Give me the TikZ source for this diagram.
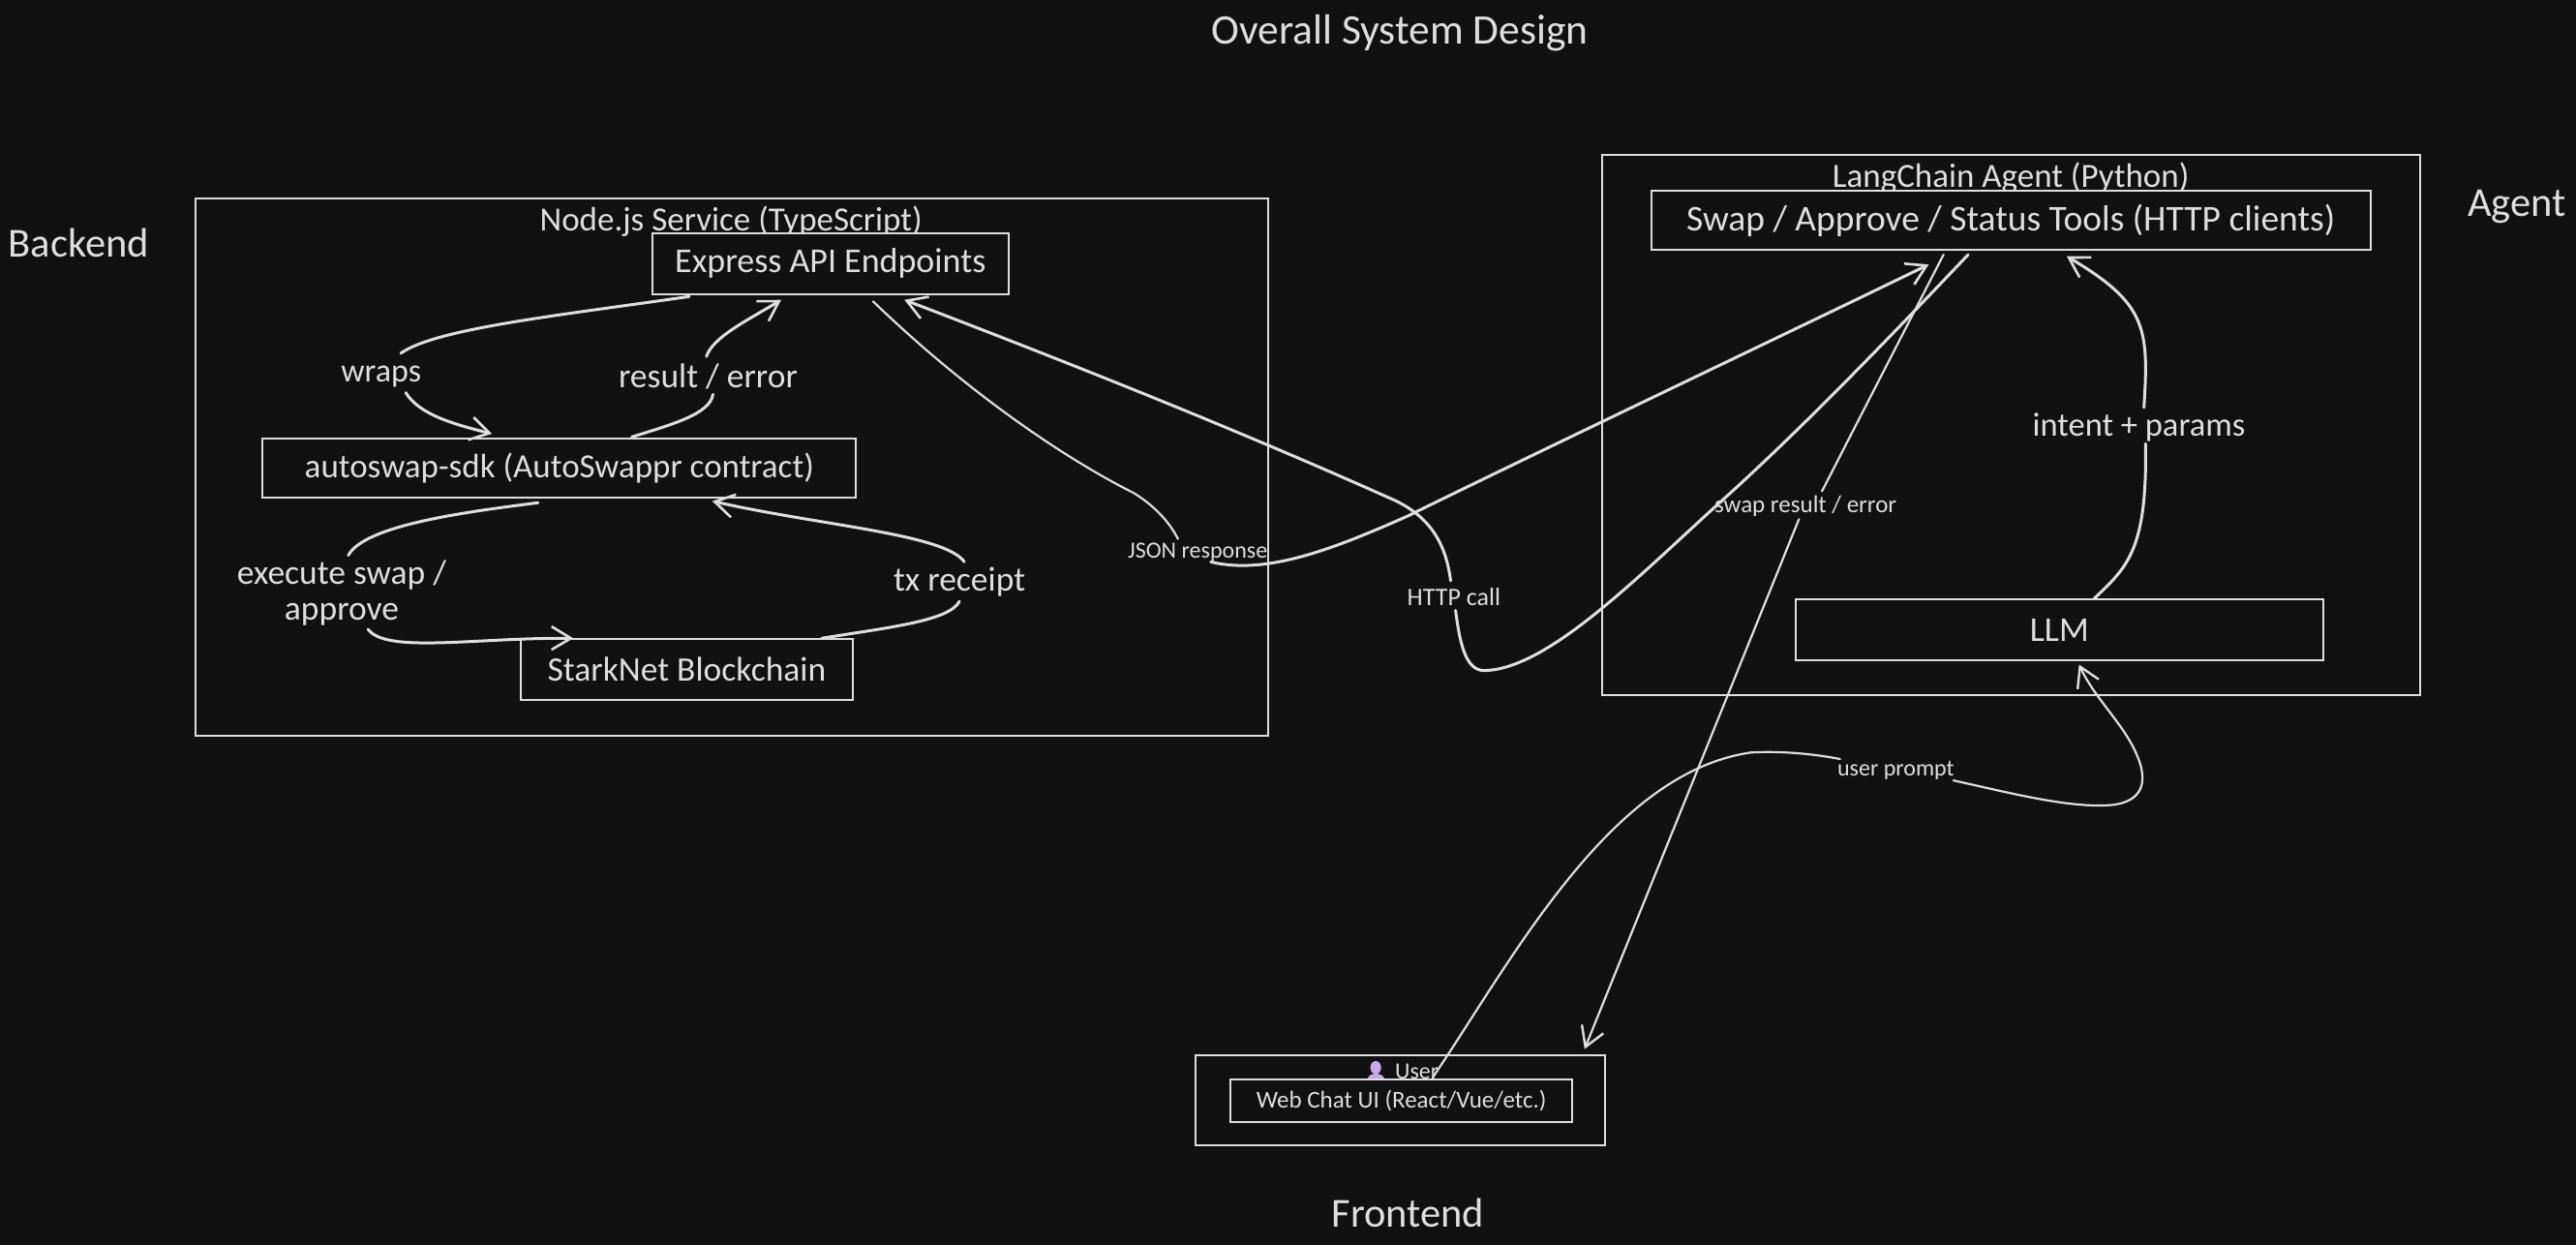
\documentclass[tikz,border=0pt]{standalone}
\usepackage{fontspec}
\usepackage{tikz}
\usetikzlibrary{arrows.meta,calc}
\setmainfont{Carlito}
\definecolor{bgdark}{HTML}{111111}
\definecolor{inkgrey}{HTML}{DEDEDE}
\definecolor{userpurple}{HTML}{C9A7EE}
\tikzset{
  heading/.style={text=inkgrey,inner sep=0pt,font=\fontsize{42.5}{48}\selectfont},
  grouplabel/.style={text=inkgrey,inner sep=0pt,font=\fontsize{35}{40}\selectfont},
  edgelabel/.style={text=inkgrey,inner sep=0pt,align=center,font=\fontsize{35.5}{37}\selectfont},
  smalllabel/.style={text=inkgrey,inner sep=0pt,font=\fontsize{24}{28}\selectfont},
  groupbox/.style={rectangle,draw=inkgrey,line width=2pt},
  svcbox/.style={rectangle,draw=inkgrey,line width=2.2pt,fill=bgdark,text=inkgrey,inner sep=0pt,font=\fontsize{36}{42}\selectfont},
  link/.style={draw=inkgrey,line width=3pt,line cap=round},
  linkto/.style={link,-{Straight Barb[length=20pt,width=24pt,line width=2.6pt]}},
  thinlink/.style={draw=inkgrey,line width=2.2pt,line cap=round},
  thinlinkto/.style={thinlink,-{Straight Barb[length=20pt,width=24pt,line width=2.4pt]}}
}
\begin{document}
\begin{tikzpicture}[x=1.69707pt,y=-1.69707pt]
\useasboundingbox (0,0) rectangle (1568,757.2);
\fill[bgdark] (-2,-2) rectangle (1570,760);

\node [heading,font=\fontsize{43.5}{48}\selectfont] (title) at (852,20) {Overall System Design};
\node [heading] (backend) at (48,148) {Backend};
\node [heading] (agent) at (1532,126) {Agent};
\node [heading] (frontend) at (857,738) {Frontend};

\node [groupbox,minimum width=1108pt,minimum height=555pt] (nodesvc) at (445.5,284.5) {};
\node [grouplabel] (nodelabel) at (445,135) {Node.js Service (TypeScript)};
\node [svcbox,minimum width=368pt,minimum height=63pt] (express) at (505.5,160.5) {Express API Endpoints};
\node [svcbox,minimum width=613pt,minimum height=61pt,font=\fontsize{35}{40}\selectfont] (sdk) at (340.5,285) {autoswap-sdk (AutoSwappr contract)};
\node [svcbox,minimum width=343pt,minimum height=63pt,font=\fontsize{35.5}{40}\selectfont] (starknet) at (418,407.5) {StarkNet Blockchain};

\node [groupbox,minimum width=845pt,minimum height=558pt] (langchain) at (1224,258.5) {};
\node [grouplabel] (langlabel) at (1224,108) {LangChain Agent (Python)};
\node [svcbox,minimum width=743pt,minimum height=61pt,font=\fontsize{37.5}{42}\selectfont] (tools) at (1224,134) {Swap / Approve / Status Tools (HTTP clients)};
\node [svcbox,minimum width=545pt,minimum height=63pt] (llm) at (1253.5,383.5) {LLM};

\node [groupbox,minimum width=423pt,minimum height=93pt] (webgroup) at (852.5,669.5) {};
\node [smalllabel] (userlabel) at (862.5,652.5) {User};
\fill [userpurple] (837.4,649.8) ellipse [x radius=3.3,y radius=4];
\fill [userpurple] (831.8,658) .. controls (832.5,654.5) and (835,653.5) .. (837.4,653.5) .. controls (840,653.5) and (842.5,654.5) .. (843.2,658) -- cycle;
\node [svcbox,minimum width=353pt,minimum height=44pt,font=\fontsize{25}{29}\selectfont] (webchat) at (853,670) {Web Chat UI (React/Vue/etc.)};

\node [edgelabel,font=\fontsize{34}{37}\selectfont] (wraps) at (232,229) {wraps};
\node [edgelabel] (result) at (431,229) {result / error};
\node [edgelabel] (execute) at (208,361) {execute swap /\\approve};
\node [edgelabel] (receipt) at (584,354) {tx receipt};
\node [edgelabel,font=\fontsize{34.5}{37}\selectfont] (intent) at (1302,260) {intent + params};
\node [smalllabel] (json) at (729,336) {JSON response};
\node [smalllabel,font=\fontsize{26}{28}\selectfont] (httpcall) at (885,363.5) {HTTP call};
\node [smalllabel,font=\fontsize{25}{28}\selectfont] (swapres) at (1099,308) {swap result / error};
\node [smalllabel] (prompt) at (1154,469) {user prompt};

\draw [link] ($(express)+(-86,20)$) .. controls (340,192) and (265,200) .. ($(wraps)+(12,-14)$);
\draw [linkto] ($(wraps)+(15,10)$) .. controls (255,252) and (275,258) .. ($(sdk)+(-41,-21)$);
\draw [link] ($(sdk)+(44,-19)$) .. controls (410,258) and (432,252) .. ($(result)+(3,11)$);
\draw [linkto] ($(result)+(-1,-12)$) .. controls (434,205) and (455,195) .. ($(express)+(-30,22)$);
\draw [link] ($(sdk)+(-13,21)$) .. controls (280,312) and (222,320) .. ($(execute)+(4,-23)$);
\draw [linkto] ($(execute)+(16,22)$) .. controls (235,398) and (290,388) .. ($(starknet)+(-69,-19)$);
\draw [link] ($(starknet)+(82,-19)$) .. controls (540,382) and (578,378) .. ($(receipt)+(0,12)$);
\draw [linkto] ($(receipt)+(3,-12)$) .. controls (575,325) and (500,320) .. ($(sdk)+(93,20)$);

\draw [thinlink] ($(express)+(26,23)$) .. controls (590,240) and (650,280) .. (690,300) .. controls (703,308) and (712,318) .. ($(json)+(-12,-8)$);
\draw [linkto] ($(json)+(8,6)$) .. controls (770,350) and (810,335) .. (857,314) .. controls (930,278) and (1100,197) .. ($(tools)+(-50,27)$);
\draw [linkto] ($(httpcall)+(-2,-10)$) .. controls (880,330) and (870,315) .. (850,305) .. controls (772,270) and (680,232) .. ($(express)+(45,22)$);
\draw [link] ($(httpcall)+(1,8)$) .. controls (889,395) and (893,410) .. (906,408) .. controls (945,405) and (1000,348) .. (1050,303) .. controls (1100,258) and (1160,195) .. ($(tools)+(-26,21)$);
\draw [thinlink] ($(tools)+(-41,21)$) -- ($(swapres)+(10,-9)$);
\draw [thinlinkto] ($(swapres)+(-4,8)$) -- ($(webgroup)+(112,-31)$);
\draw [link] ($(llm)+(21,-19)$) .. controls (1295,345) and (1307,335) .. ($(intent)+(4,10)$);
\draw [linkto] ($(intent)+(3,-12)$) .. controls (1308,200) and (1307,185) .. ($(tools)+(34,22)$);
\draw [thinlink] ($(webchat)+(19,-14)$) .. controls (920,585) and (980,470) .. (1066,458) .. controls (1085,457) and (1105,459) .. ($(prompt)+(-34,-7)$);
\draw [thinlinkto] ($(prompt)+(35,6)$) .. controls (1225,483) and (1260,492) .. (1285,490) .. controls (1305,488) and (1308,475) .. (1300,458) .. controls (1292,440) and (1275,425) .. ($(llm)+(12,21)$);
\end{tikzpicture}
\end{document}
